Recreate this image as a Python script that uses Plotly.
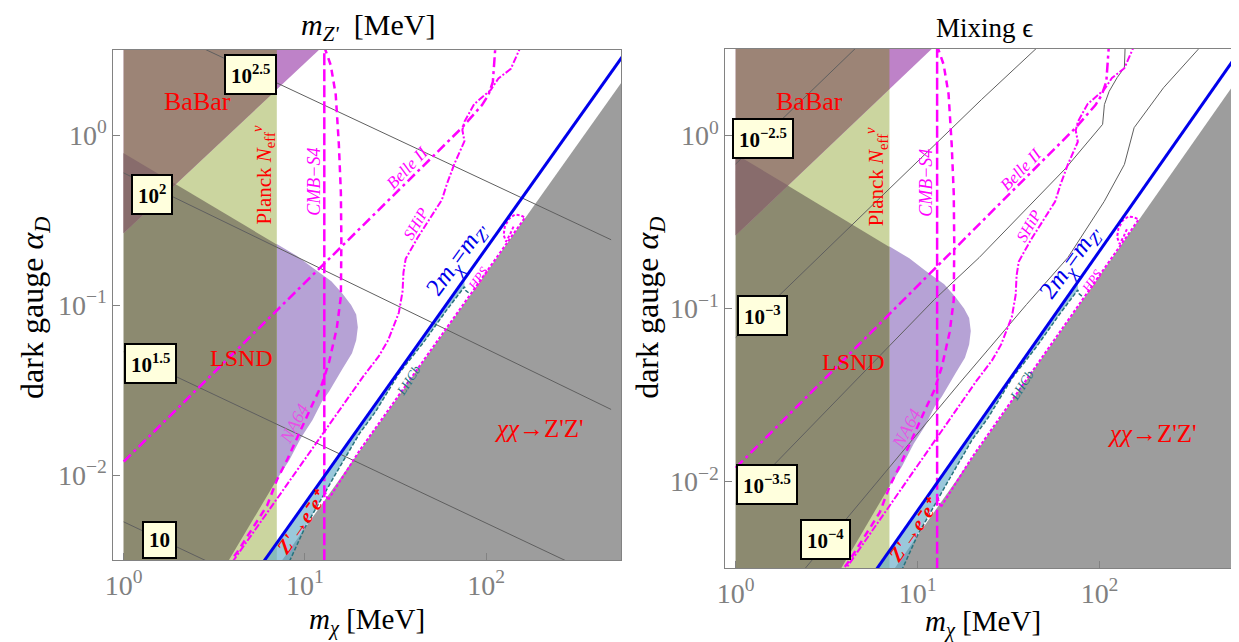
import numpy as np
import plotly.graph_objects as go

FONT = "Liberation Serif"
MAG = "#ff00ff"

# ---------------- axis ranges (log10 units) ----------------
x_range = [-0.057, 2.745]
y_range = [-2.5, 0.5]
x_ticks = [1, 10, 100]
x_ticktext = ["10<sup>0</sup>", "10<sup>1</sup>", "10<sup>2</sup>"]
y_ticks = [0.01, 0.1, 1]
y_ticktext = ["10<sup>\u22122</sup>", "10<sup>\u22121</sup>", "10<sup>0</sup>"]

# ---------------- shaded regions (m_chi [MeV], alpha_D) ----------------
gray_x = [6.8, 650, 650, 6.8]
gray_y = [0.00273, 2.55, 0.0025, 0.0025]

na64_x = [1, 7.06, 9, 11, 14, 16.1, 18, 19.2, 19.6, 19.2, 18.2, 16.1, 13.6, 12.4, 11, 9.5, 8.2, 7.0, 3.7, 1]
na64_y = [0.78, 0.226, 0.195, 0.166, 0.138, 0.117, 0.1, 0.088, 0.074, 0.062, 0.052, 0.042, 0.031, 0.027, 0.021, 0.0165, 0.0122, 0.0094, 0.003, 0.003]

planck_x = [1, 7, 7, 1]
planck_y = [0.003, 0.003, 3.6, 3.6]

planck_na64_x = [1, 7.0, 7.0, 3.7, 1]
planck_na64_y = [0.78, 0.227, 0.0094, 0.003, 0.003]

babar_x = [1, 13.6, 1]
babar_y = [0.265, 3.6, 3.6]

babar_planck_x = [1, 7, 7, 1]
babar_planck_y = [0.265, 1.855, 3.6, 3.6]

babar_planck_na64_x = [1, 1.94, 1]
babar_planck_na64_y = [0.265, 0.514, 0.78]

# LHCb / Z'->e-e+ band: left edge on the 2m_chi = m_Z' line, right edge = teal contour
teal_x = [80, 77, 76, 60, 45, 33, 24.5, 20, 15.3, 12.8, 11.4, 10, 8.1]
teal_y = [0.118, 0.122, 0.128, 0.092, 0.060, 0.0395, 0.0235, 0.0175, 0.0108, 0.0078, 0.0062, 0.0049, 0.0030]
lhcb_x = [5.8, 76] + teal_x[2:]
lhcb_y = [0.0030, 0.1425] + teal_y[2:]

# ---------------- lines ----------------
blue_x = [5.8, 620]
blue_y = [0.0030, 3.32]

cmb_x = [12.8, 12.8]
cmb_y = [0.0025, 4.0]

na64p_x = [12.8, 13.9, 14.8, 15.4, 15.8, 15.9, 15.8, 15.0, 13.6, 12.4, 11.0, 9.7, 8.04, 7.01, 6.19, 4.25, 3.8]
na64p_y = [3.3, 2.57, 1.73, 0.88, 0.46, 0.236, 0.112, 0.073, 0.0462, 0.034, 0.026, 0.0192, 0.0125, 0.00935, 0.00662, 0.00354, 0.0030]

ship_x = [157, 137, 117, 106, 86, 76, 74, 76, 67, 61, 57, 50, 42, 36, 35, 34.6, 33, 28.8, 25.6, 21, 4.0]
ship_y = [3.4, 2.45, 2.15, 1.84, 1.52, 1.2, 1.07, 0.92, 0.68, 0.52, 0.415, 0.336, 0.25, 0.187, 0.155, 0.12, 0.09, 0.062, 0.05, 0.038, 0.0031]

belle_x = [1, 74, 95, 103, 109, 112, 113]
belle_y = [0.012, 1.11, 1.5, 1.72, 2.05, 3.1, 3.5]

hps_x = [12.9, 13.4, 20, 30, 50, 80, 120, 150, 164, 155, 144, 134, 127, 125, 129, 136, 142]
hps_y = [0.0080, 0.0071, 0.0139, 0.0256, 0.055, 0.111, 0.204, 0.285, 0.327, 0.337, 0.34, 0.322, 0.29, 0.258, 0.236, 0.262, 0.29]

# m_Z' contours (left panel)
mzp_labels = ["10", "10<sup>1.5</sup>", "10<sup>2</sup>", "10<sup>2.5</sup>"]
mzp_x0 = [1, 1, 1, 2.48]
mzp_y0 = [0.0053, 0.053, 0.598, 3.4]
mzp_x1 = [3.0, 300, 490, 490]
mzp_y1 = [0.00305, 0.0030, 0.0243, 0.242]
mzp_lab_x = [1.58, 1.41, 1.43, 5.0]
mzp_lab_y = [0.00415, 0.045, 0.444, 2.28]

# epsilon contours (right panel)
eps_labels = ["10<sup>\u22122.5</sup>", "10<sup>\u22123</sup>", "10<sup>\u22123.5</sup>", "10<sup>\u22124</sup>"]
eps_x = [
    [1, 4.85],
    [1, 22.4, 48],
    [1, 12.4, 21.8, 64.6, 104, 106.4, 113, 125, 137, 138.5],
    [2.38, 17, 39.7, 67, 106, 137, 155, 225, 348, 362],
]
eps_y = [
    [0.685, 3.4],
    [0.068, 1.61, 3.4],
    [0.0074, 0.113, 0.197, 0.64, 1.16, 1.51, 1.8, 2.16, 2.47, 3.4],
    [0.0031, 0.037, 0.1055, 0.197, 0.415, 0.68, 1.11, 1.89, 3.14, 3.4],
]
eps_lab_x = [1.42, 1.40, 1.49, 3.11]
eps_lab_y = [0.96, 0.091, 0.0096, 0.00462]

fig = go.Figure()


def poly(xs, ys, color, xa, ya):
    fig.add_trace(go.Scatter(x=xs, y=ys, fill="toself", fillcolor=color, mode="lines",
                             line=dict(width=0, color=color), hoverinfo="skip",
                             showlegend=False, xaxis=xa, yaxis=ya))


def line(xs, ys, color, width, dash, xa, ya):
    fig.add_trace(go.Scatter(x=xs, y=ys, mode="lines", line=dict(color=color, width=width, dash=dash),
                             hoverinfo="skip", showlegend=False, xaxis=xa, yaxis=ya))


def ann(x, y, text, xa, ya, size, color, angle=0, **kw):
    fig.add_annotation(x=np.log10(x), y=np.log10(y), xref=xa, yref=ya, text=text, showarrow=False,
                       textangle=angle, xanchor="center", yanchor="middle",
                       font=dict(family=FONT, size=size, color=color), **kw)


for panel in (1, 2):
    xa = "x" if panel == 1 else "x2"
    ya = "y" if panel == 1 else "y2"
    poly(gray_x, gray_y, "rgb(157,157,157)", xa, ya)
    poly(na64_x, na64_y, "rgb(182,162,213)", xa, ya)
    poly(planck_x, planck_y, "rgb(203,213,159)", xa, ya)
    poly(planck_na64_x, planck_na64_y, "rgb(140,138,112)", xa, ya)
    poly(babar_x, babar_y, "rgb(190,130,200)", xa, ya)
    poly(babar_planck_x, babar_planck_y, "rgb(156,132,118)", xa, ya)
    poly(babar_planck_na64_x, babar_planck_na64_y, "rgb(136,108,108)", xa, ya)
    poly(lhcb_x, lhcb_y, "rgba(100,170,200,0.65)", xa, ya)

    if panel == 1:
        for i in range(len(mzp_labels)):
            line([mzp_x0[i], mzp_x1[i]], [mzp_y0[i], mzp_y1[i]], "rgb(95,95,95)", 1, "solid", xa, ya)
    else:
        for i in range(len(eps_labels)):
            line(eps_x[i], eps_y[i], "rgb(95,95,95)", 1, "solid", xa, ya)

    line(teal_x, teal_y, "rgb(40,115,125)", 1.5, "4px,2px", xa, ya)
    line(hps_x, hps_y, MAG, 2, "3px,2px", xa, ya)
    line(cmb_x, cmb_y, MAG, 2.5, "12px,4px", xa, ya)
    line(na64p_x, na64p_y, MAG, 2.5, "7px,5px", xa, ya)
    line(ship_x, ship_y, MAG, 2, "7px,2px,2px,2px", xa, ya)
    line(belle_x, belle_y, MAG, 2.5, "10px,4px,3px,4px", xa, ya)
    line(blue_x, blue_y, "rgb(0,0,235)", 3, "solid", xa, ya)

    # region / line labels
    ann(2.56, 1.58, "BaBar", xa, ya, 26, "red")
    ann(5.9, 0.58, "Planck <i>N</i><sub>eff</sub><sup><i>\u03bd</i></sup>", xa, ya, 21, "red", -90)
    ann(4.45, 0.049, "LSND", xa, ya, 24, "red")
    ann(196, 0.0189, "<i>\u03c7\u03c7</i>\u2192Z'Z'", xa, ya, 25, "red")
    ann(11.2, 0.53, "<i>CMB\u2212S4</i>", xa, ya, 18, MAG, -90)
    ann(37, 0.64, "<i>Belle II</i>", xa, ya, 17, MAG, -46)
    ann(41, 0.30, "<i>SHiP</i>", xa, ya, 16, MAG, -60)
    ann(8.7, 0.020, "<i>NA64</i>", xa, ya, 18, "rgb(230,80,230)", -62)
    ann(70, 0.184, "2<i>m</i><sub><i>\u03c7</i></sub>=<i>m</i><sub><i>Z'</i></sub>", xa, ya, 25, "rgb(0,0,235)", -54)
    ann(90, 0.144, "<i>HPS</i>", xa, ya, 13, MAG, -55)
    ann(37.2, 0.036, "<i>LHCb</i>", xa, ya, 13, "rgb(40,115,125)", -57)
    ann(9.6, 0.0053, "<b><i>Z'\u2192e\u207be\u207a</i></b>", xa, ya, 20, "red", -55)

    labs = mzp_labels if panel == 1 else eps_labels
    lx = mzp_lab_x if panel == 1 else eps_lab_x
    ly = mzp_lab_y if panel == 1 else eps_lab_y
    for i in range(len(labs)):
        ann(lx[i], ly[i], "<b>" + labs[i] + "</b>", xa, ya, 21, "black",
            bgcolor="rgb(255,255,221)", bordercolor="black", borderwidth=2, borderpad=5)

axis_common = dict(type="log", showgrid=False, zeroline=False, showline=True, mirror=True,
                   linecolor="rgb(130,130,130)", linewidth=1, ticks="inside", ticklen=7,
                   tickcolor="rgb(130,130,130)",
                   tickfont=dict(family=FONT, size=28, color="rgb(128,128,128)"))

# The page body adds an 8px margin; the figure is sized so the picture spans the window.
OFF = 8
W, H = 1239 - OFF, 642 - OFF


def xp(px):
    return (px - OFF) / W


def yp(py):
    return 1 - (py - OFF) / H


fig.update_layout(
    width=W, height=H, margin=dict(l=0, r=0, t=0, b=0),
    paper_bgcolor="white", plot_bgcolor="white", showlegend=False,
    xaxis=dict(axis_common, range=x_range, tickvals=x_ticks, ticktext=x_ticktext,
               domain=[xp(106), xp(617)], anchor="y"),
    yaxis=dict(axis_common, range=y_range, tickvals=y_ticks, ticktext=y_ticktext,
               domain=[yp(560), yp(50)], anchor="x"),
    xaxis2=dict(axis_common, range=x_range, tickvals=x_ticks, ticktext=x_ticktext,
                domain=[xp(722), xp(1235)], anchor="y2"),
    yaxis2=dict(axis_common, range=y_range, tickvals=y_ticks, ticktext=y_ticktext,
                domain=[yp(568), yp(49)], anchor="x2"),
)

paper_texts = [
    (362, 27, "<i>m</i><sub><i>Z'</i></sub>  [MeV]", 30, 0),
    (983, 28, "Mixing \u03f5", 27, 0),
    (361, 621, "<i>m</i><sub><i>\u03c7</i></sub> [MeV]", 29, 0),
    (981, 623, "<i>m</i><sub><i>\u03c7</i></sub> [MeV]", 29, 0),
    (27, 308, "dark gauge <i>\u03b1</i><sub><i>D</i></sub>", 32, -90),
    (646, 308, "dark gauge <i>\u03b1</i><sub><i>D</i></sub>", 32, -90),
]
for px, py, txt, sz, ang in paper_texts:
    fig.add_annotation(x=xp(px), y=yp(py), xref="paper", yref="paper", text=txt, showarrow=False,
                       xanchor="center", yanchor="middle", textangle=ang,
                       font=dict(family=FONT, size=sz, color="black"))

fig.write_html("out.html")
